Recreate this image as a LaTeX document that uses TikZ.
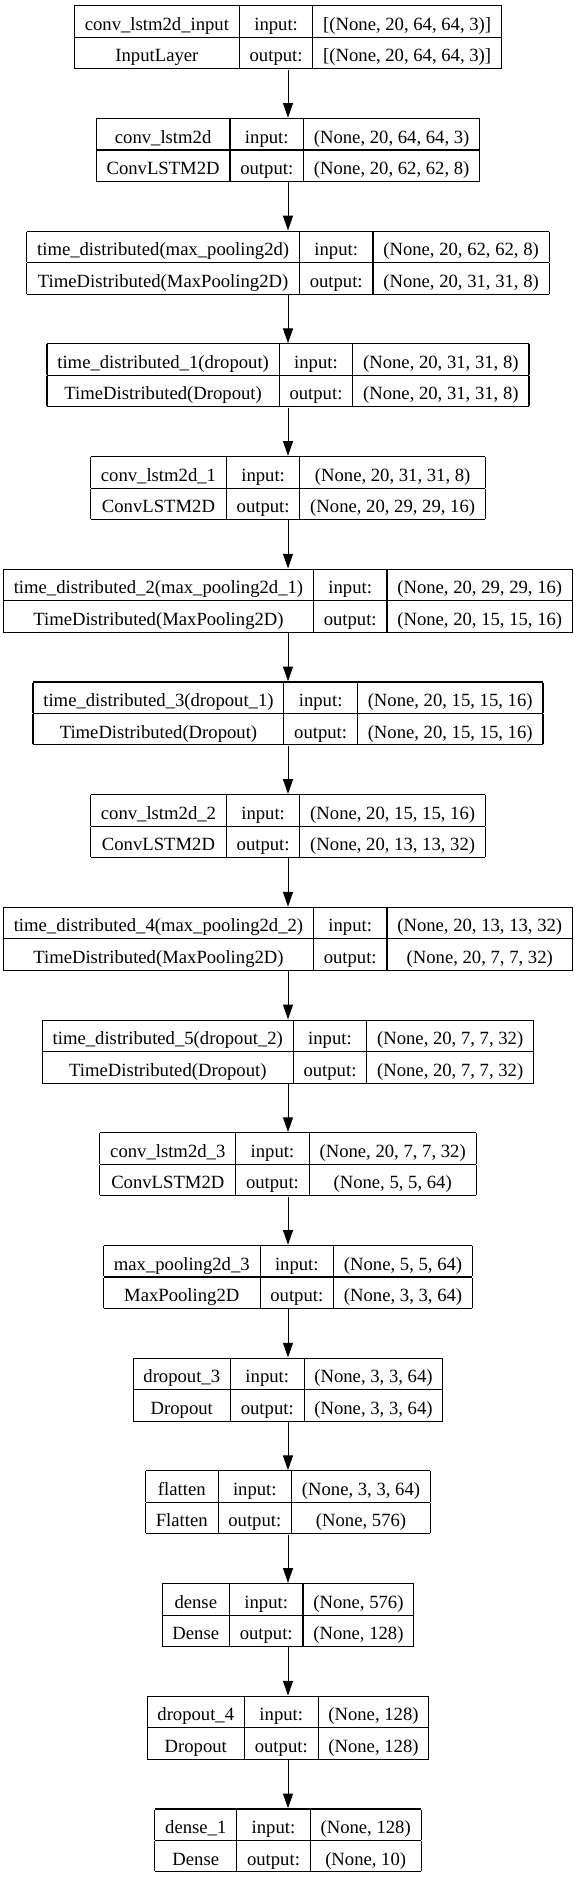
\documentclass[tikz,border=0pt]{standalone}
\usepackage{fontspec}
\setmainfont{Liberation Serif}
\usetikzlibrary{arrows.meta}
\setlength{\arrayrulewidth}{0.8pt}
\setlength{\tabcolsep}{7.75pt}
\def\rowstrut{\rule[-4.8pt]{0pt}{22.8pt}}
\def\layertab#1#2#3#4{\begin{tabular}{|c|c|c|}\hline
	\rowstrut#1 & input: & #3\\\hline
	\rowstrut#2 & output: & #4\\\hline\end{tabular}}
\tikzset{layer/.style={inner sep=0pt, anchor=north, font=\fontsize{14pt}{16pt}\selectfont},
	flow/.style={-{Triangle[length=11pt,width=7.5pt]}, line width=0.75pt}}

\begin{document}
\begin{tikzpicture}[x=0.75pt,y=-0.75pt]
		\useasboundingbox (0,0) rectangle (577,1878);
		\node[layer] (inp) at (288,5) {\layertab{conv\_lstm2d\_input}{InputLayer}{[(None, 20, 64, 64, 3)]}{[(None, 20, 64, 64, 3)]}};
		\node[layer] (cl) at (288,117.7) {\layertab{conv\_lstm2d}{ConvLSTM2D}{(None, 20, 64, 64, 3)}{(None, 20, 62, 62, 8)}};
		\node[layer] (td) at (288,230.4) {\layertab{time\_distributed(max\_pooling2d)}{TimeDistributed(MaxPooling2D)}{(None, 20, 62, 62, 8)}{(None, 20, 31, 31, 8)}};
		\node[layer] (td1) at (288,343.1) {\layertab{time\_distributed\_1(dropout)}{TimeDistributed(Dropout)}{(None, 20, 31, 31, 8)}{(None, 20, 31, 31, 8)}};
		\node[layer] (cl1) at (288,455.8) {\layertab{conv\_lstm2d\_1}{ConvLSTM2D}{(None, 20, 31, 31, 8)}{(None, 20, 29, 29, 16)}};
		\node[layer] (td2) at (288,568.5) {\layertab{time\_distributed\_2(max\_pooling2d\_1)}{TimeDistributed(MaxPooling2D)}{(None, 20, 29, 29, 16)}{(None, 20, 15, 15, 16)}};
		\node[layer] (td3) at (288,681.2) {\layertab{time\_distributed\_3(dropout\_1)}{TimeDistributed(Dropout)}{(None, 20, 15, 15, 16)}{(None, 20, 15, 15, 16)}};
		\node[layer] (cl2) at (288,793.9) {\layertab{conv\_lstm2d\_2}{ConvLSTM2D}{(None, 20, 15, 15, 16)}{(None, 20, 13, 13, 32)}};
		\node[layer] (td4) at (288,906.6) {\layertab{time\_distributed\_4(max\_pooling2d\_2)}{TimeDistributed(MaxPooling2D)}{(None, 20, 13, 13, 32)}{(None, 20, 7, 7, 32)}};
		\node[layer] (td5) at (288,1019.3) {\layertab{time\_distributed\_5(dropout\_2)}{TimeDistributed(Dropout)}{(None, 20, 7, 7, 32)}{(None, 20, 7, 7, 32)}};
		\node[layer] (cl3) at (288,1132) {\layertab{conv\_lstm2d\_3}{ConvLSTM2D}{(None, 20, 7, 7, 32)}{(None, 5, 5, 64)}};
		\node[layer] (mp3) at (288,1244.7) {\layertab{max\_pooling2d\_3}{MaxPooling2D}{(None, 5, 5, 64)}{(None, 3, 3, 64)}};
		\node[layer] (do3) at (288,1357.4) {\layertab{dropout\_3}{Dropout}{(None, 3, 3, 64)}{(None, 3, 3, 64)}};
		\node[layer] (flat) at (288,1470.1) {\layertab{flatten}{Flatten}{(None, 3, 3, 64)}{(None, 576)}};
		\node[layer] (dense) at (288,1582.8) {\layertab{dense}{Dense}{(None, 576)}{(None, 128)}};
		\node[layer] (do4) at (288,1695.5) {\layertab{dropout\_4}{Dropout}{(None, 128)}{(None, 128)}};
		\node[layer] (dense1) at (288,1808.2) {\layertab{dense\_1}{Dense}{(None, 128)}{(None, 10)}};
		
		\draw[flow] (inp.south) -- (cl.north);
		\draw[flow] (cl.south) -- (td.north);
		\draw[flow] (td.south) -- (td1.north);
		\draw[flow] (td1.south) -- (cl1.north);
		\draw[flow] (cl1.south) -- (td2.north);
		\draw[flow] (td2.south) -- (td3.north);
		\draw[flow] (td3.south) -- (cl2.north);
		\draw[flow] (cl2.south) -- (td4.north);
		\draw[flow] (td4.south) -- (td5.north);
		\draw[flow] (td5.south) -- (cl3.north);
		\draw[flow] (cl3.south) -- (mp3.north);
		\draw[flow] (mp3.south) -- (do3.north);
		\draw[flow] (do3.south) -- (flat.north);
		\draw[flow] (flat.south) -- (dense.north);
		\draw[flow] (dense.south) -- (do4.north);
		\draw[flow] (do4.south) -- (dense1.north);
		\end{tikzpicture}
\end{document}
